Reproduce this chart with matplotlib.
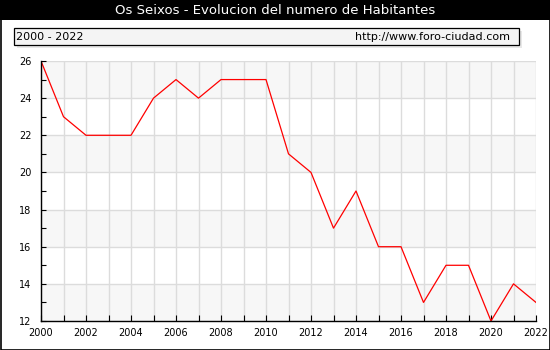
import matplotlib
matplotlib.use("Agg")
import matplotlib.pyplot as plt
from matplotlib.patches import Rectangle

years = list(range(2000, 2023))
habitantes = [26, 23, 22, 22, 22, 24, 25, 24, 25, 25, 25, 21, 20, 17, 19, 16, 16, 13, 15, 15, 12, 14, 13]

title = "Os Seixos - Evolucion del numero de Habitantes"
periodo = "2000 - 2022"
web = "http://www.foro-ciudad.com"

W, H = 550, 350
fig = plt.figure(figsize=(W / 100, H / 100), dpi=100)
fig.patch.set_facecolor("white")

def fx(x):
    return x / W

def fy(y):
    return 1 - y / H

# marco exterior y barra de titulo
fig.patches.append(Rectangle((fx(0.5), fy(349.5)), fx(549), 349 / H, transform=fig.transFigure,
                             facecolor="none", edgecolor="black", lw=1.2, zorder=0))
fig.patches.append(Rectangle((0, fy(20)), 1, 20 / H, transform=fig.transFigure,
                             facecolor="black", edgecolor="none", zorder=1))
fig.text(0.5, fy(10.5), title, color="white", ha="center", va="center", fontsize=9.5)

# caja de informacion con sombra
fig.patches.append(Rectangle((fx(17), fy(48)), fx(505), 17 / H, transform=fig.transFigure,
                             facecolor="#e8e8e8", edgecolor="none", zorder=1))
fig.patches.append(Rectangle((fx(14), fy(45)), fx(505), 17 / H, transform=fig.transFigure,
                             facecolor="#f4f4f4", edgecolor="black", lw=0.9, zorder=2))
fig.text(fx(16), fy(36.5), periodo, ha="left", va="center", fontsize=8, zorder=3)
fig.text(fx(510), fy(36.5), web, ha="right", va="center", fontsize=8, zorder=3)

ax = fig.add_axes([fx(41), fy(321), (536 - 41) / W, (321 - 61) / H])
ax.set_zorder(5)
ax.set_xlim(2000, 2022)
ax.set_ylim(12, 26)

# bandas alternas
for lo in [12, 16, 20, 24]:
    ax.axhspan(lo, lo + 2, color="#f7f7f7", zorder=0, lw=0)

for y in range(12, 27, 2):
    ax.axhline(y, color="#dcdcdc", lw=1, zorder=1)
for x in years:
    ax.axvline(x, color="#dcdcdc", lw=1, zorder=1)

ax.plot(years, habitantes, color="red", lw=0.9, zorder=3)

ax.set_xticks(years)
ax.set_xticklabels([str(y) if y % 2 == 0 else "" for y in years])
ax.set_yticks(range(12, 27, 2))
ax.set_yticks(range(13, 26, 2), minor=True)
ax.tick_params(axis="x", direction="in", length=4, width=0.8, labelsize=7, pad=5)
ax.tick_params(axis="y", which="both", direction="in", length=3.5, width=0.8, labelsize=7, pad=7)

for s in ["top", "right"]:
    ax.spines[s].set_visible(False)
for s in ["left", "bottom"]:
    ax.spines[s].set_linewidth(1)
    ax.spines[s].set_zorder(4)

fig.savefig("out.png", dpi=100)
